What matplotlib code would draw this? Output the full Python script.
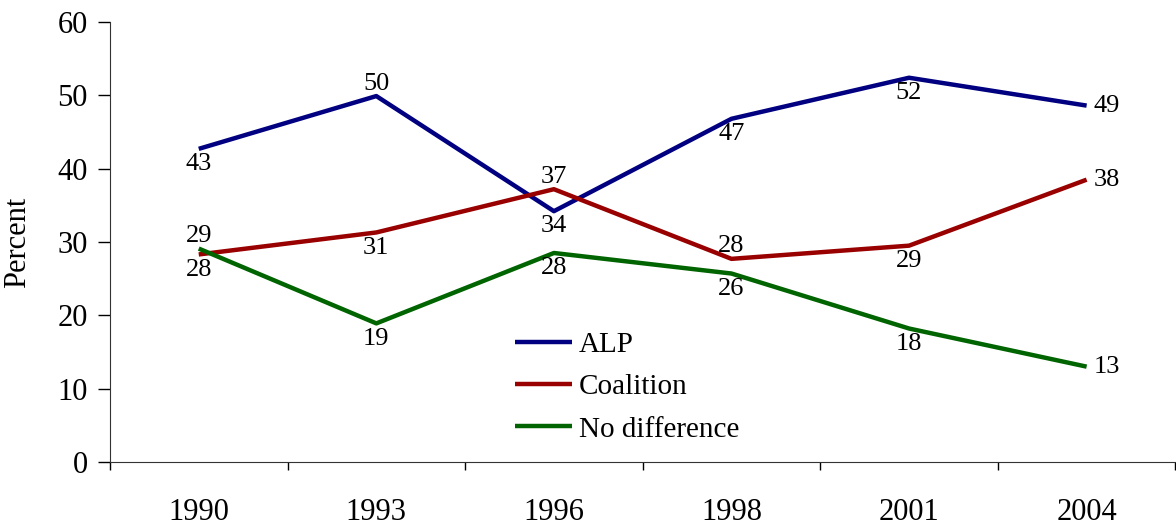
import matplotlib.pyplot as plt
import numpy as np

years = ['1990', '1993', '1996', '1998', '2001', '2004']
alp = [42.7, 49.9, 34.2, 46.8, 52.4, 48.6]
coalition = [28.3, 31.3, 37.2, 27.7, 29.5, 38.5]
no_diff = [29.1, 18.9, 28.5, 25.7, 18.2, 13.0]

alp_labels = ['43', '50', '34', '47', '52', '49']
coalition_labels = ['28', '31', '37', '28', '29', '38']
no_diff_labels = ['29', '19', '28', '26', '18', '13']

# where each label sits relative to its point: 'below', 'above', 'right'
alp_pos = ['below', 'above', 'below', 'below', 'below', 'right']
coalition_pos = ['below', 'below', 'above', 'above', 'below', 'right']
no_diff_pos = ['above', 'below', 'below', 'below', 'below', 'right']

plt.rcParams['font.family'] = ['Liberation Serif', 'DejaVu Serif']

fig = plt.figure(figsize=(11.76, 5.29), dpi=100)
ax = fig.add_axes([0.0935, 0.1267, 0.906, 0.8317])

x = np.arange(len(years))
series = [
    (alp, alp_labels, alp_pos, '#000080', 'ALP'),
    (coalition, coalition_labels, coalition_pos, '#990000', 'Coalition'),
    (no_diff, no_diff_labels, no_diff_pos, '#006400', 'No difference'),
]
for vals, labs, pos, col, name in series:
    ax.plot(x, vals, color=col, lw=3.2, label=name, solid_capstyle='butt')
    for xi, v, lab, p in zip(x, vals, labs, pos):
        if p == 'below':
            ax.annotate(lab, (xi, v), xytext=(0, -3), textcoords='offset points',
                        ha='center', va='top', fontsize=19)
        elif p == 'above':
            ax.annotate(lab, (xi, v), xytext=(0, 1), textcoords='offset points',
                        ha='center', va='bottom', fontsize=19)
        else:
            ax.annotate(lab, (xi, v), xytext=(5, 0), textcoords='offset points',
                        ha='left', va='center', fontsize=19)

ax.set_xlim(-0.5, 5.5)
ax.set_ylim(0, 60)
ax.set_yticks(range(0, 61, 10))
ax.set_xticks(np.arange(-0.5, 6, 1))
ax.set_xticklabels([])
ax.set_xticks(x, minor=True)
ax.set_xticklabels(years, minor=True)
ax.tick_params(axis='x', which='major', direction='out', length=6, width=1)
ax.tick_params(axis='x', which='minor', length=0, pad=26, labelsize=22)
ax.tick_params(axis='y', direction='out', length=9, width=1, labelsize=22, pad=7)
for s in ['top', 'right']:
    ax.spines[s].set_visible(False)
ax.spines['left'].set_color('#333333')
ax.spines['bottom'].set_color('#333333')
ax.set_ylabel('Percent', fontsize=22, labelpad=18)

ax.legend(loc='upper left', bbox_to_anchor=(0.380, 0.297), frameon=False,
          fontsize=21, handlelength=1.95, handletextpad=0.25, labelspacing=0.55,
          borderpad=0, borderaxespad=0)

fig.savefig('out.png', dpi=100)
